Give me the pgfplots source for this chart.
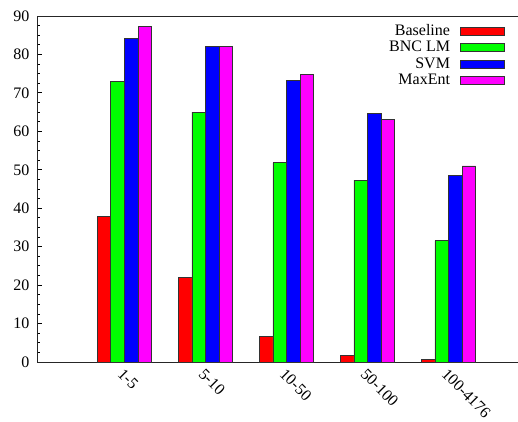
\documentclass[border=0pt]{standalone}
\usepackage{fontspec}
\setmainfont{Liberation Serif}
\usepackage{pgfplots}
\pgfplotsset{compat=1.18}
\definecolor{cred}{RGB}{255,0,0}
\definecolor{cgreen}{RGB}{0,255,0}
\definecolor{cblue}{RGB}{0,0,255}
\definecolor{cmag}{RGB}{255,0,255}
\pgfplotsset{
  legbox/.style={legend image code/.code={\draw[##1,line width=0.8pt] (0pt,-4pt) rectangle (44pt,4pt);}},
}
\begin{document}
\fontsize{16pt}{18pt}\selectfont
\begin{tikzpicture}
\path[use as bounding box] (0pt,0pt) rectangle (518pt,421pt);
\begin{axis}[
  at={(37pt,59pt)}, anchor=south west,
  scale only axis, width=482pt, height=346pt,
  xmin=-0.08, xmax=5.87, ymin=0, ymax=90,
  ybar=0pt, bar width=13.6pt,
  xtick={1,2,3,4,5},
  xticklabels={1-5,5-10,10-50,50-100,100-4176},
  x tick style={draw=none},
  xticklabel style={rotate=-45, anchor=west, xshift=-5pt, yshift=-6pt, font=\fontsize{16pt}{18pt}\selectfont},
  ytick={0,10,...,90},
  minor y tick num=3,
  ytick pos=left,
  major tick length=5pt, minor tick length=3pt,
  tick style={black, line width=0.8pt},
  yticklabel style={font=\fontsize{16pt}{18pt}\selectfont, xshift=-2pt},
  /pgf/number format/assume math mode=true,
  axis line style={black!85, line width=1pt},
  legend plot pos=right,
  legend cell align=right,
  legend style={at={(1,1)}, anchor=north east, xshift=-14pt, yshift=-7pt,
    draw=none, fill=none, inner sep=0pt, row sep=1.5pt, column sep=9pt,
    font=\fontsize{16pt}{18pt}\selectfont,
    nodes={inner sep=1pt}},
]
\addplot[legbox, fill=cred, draw=black!80, line width=0.8pt] coordinates {(1,37.8) (2,22.0) (3,6.7) (4,1.8) (5,0.7)};
\addlegendentry{Baseline}
\addplot[legbox, fill=cgreen, draw=black!80, line width=0.8pt] coordinates {(1,73.0) (2,65.0) (3,51.8) (4,47.3) (5,31.6)};
\addlegendentry{BNC LM}
\addplot[legbox, fill=cblue, draw=black!80, line width=0.8pt] coordinates {(1,84.2) (2,82.0) (3,73.3) (4,64.7) (5,48.6)};
\addlegendentry{SVM}
\addplot[legbox, fill=cmag, draw=black!80, line width=0.8pt] coordinates {(1,87.2) (2,82.0) (3,74.7) (4,63.2) (5,51.0)};
\addlegendentry{MaxEnt}
\end{axis}
\end{tikzpicture}
\end{document}
